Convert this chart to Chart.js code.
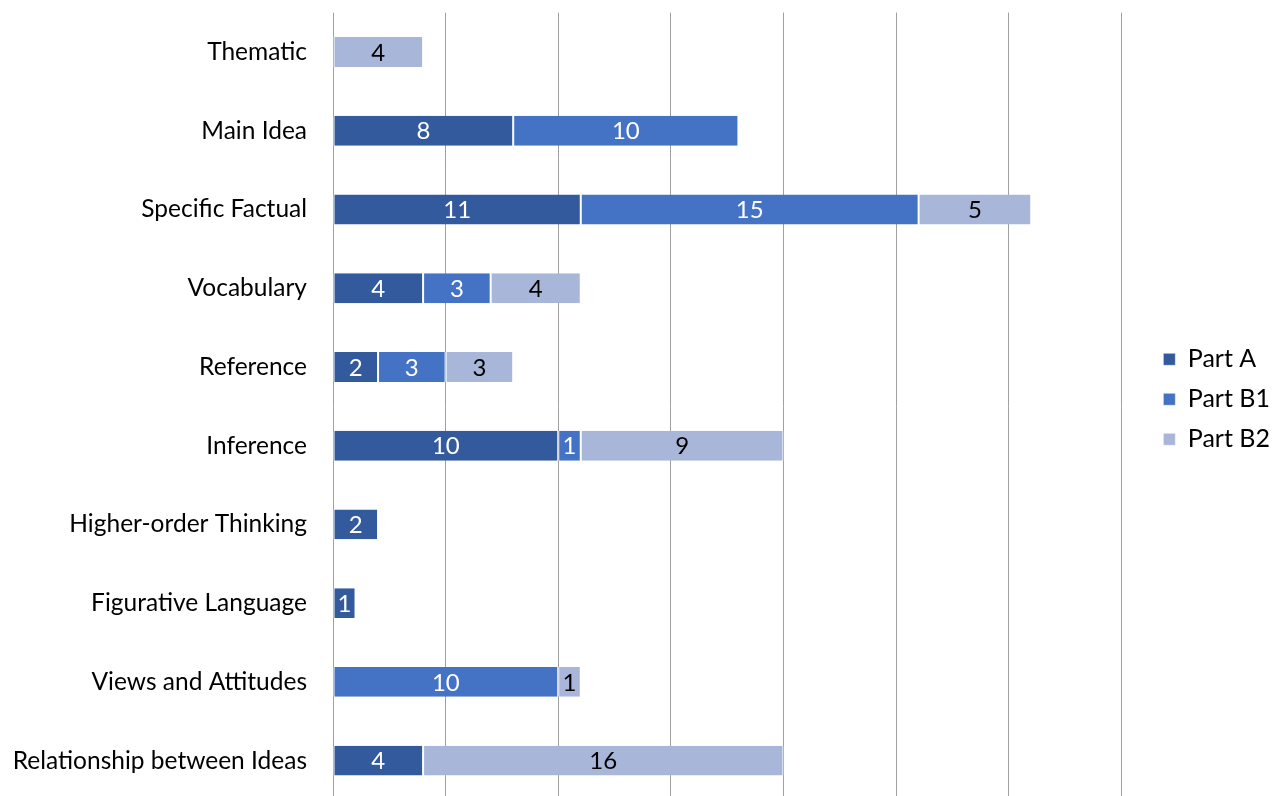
<!DOCTYPE html>
<html>
<head>
<meta charset="utf-8">
<script src="https://cdn.jsdelivr.net/npm/chart.js"></script>
<style>
  html, body { margin: 0; padding: 0; background: #fff; overflow: hidden; }
  #wrap { width: 1273px; height: 800px; position: relative; }
</style>
</head>
<body>
<div id="wrap"><canvas id="chart"></canvas></div>
<script>
// Question types (top to bottom)
const categories = [
    'Thematic', 'Main Idea', 'Specific Factual', 'Vocabulary', 'Reference',
    'Inference', 'Higher-order Thinking', 'Figurative Language',
    'Views and Attitudes', 'Relationship between Ideas'
];
// Number of questions per part
const partA  = [0, 8, 11, 4, 2, 10, 2, 1, 0, 4];
const partB1 = [0, 10, 15, 3, 3, 1, 0, 0, 10, 0];
const partB2 = [4, 0, 5, 4, 3, 9, 0, 0, 1, 16];

const FONT = "Lato, 'Open Sans', sans-serif";

// draws the value in the middle of each segment
const segmentLabels = {
    id: 'segmentLabels',
    afterDatasetsDraw(chart) {
        const ctx = chart.ctx;
        ctx.save();
        ctx.font = '24px ' + FONT;
        ctx.textAlign = 'center';
        ctx.textBaseline = 'middle';
        chart.data.datasets.forEach((ds, i) => {
            const meta = chart.getDatasetMeta(i);
            meta.data.forEach((bar, j) => {
                const v = ds.data[j];
                if (!v) return;
                const p = bar.getCenterPoint();
                ctx.fillStyle = ds.labelColor;
                ctx.fillText(String(v), p.x, p.y + 1);
            });
        });
        ctx.restore();
    }
};

// leave a wider gap between the plot and the legend, nudge legend up a bit
const legendGap = {
    id: 'legendGap',
    afterInit(chart) {
        const lg = chart.legend;
        const fit = lg.fit.bind(lg);
        lg.fit = function() { fit(); this.width += 20; };
    },
    afterLayout(chart) {
        const lg = chart.legend;
        lg.left += 27;
        lg.right += 27;
        lg.top -= 7;
        lg.bottom -= 7;
    }
};

new Chart(document.getElementById('chart'), {
    type: 'bar',
    data: {
        labels: categories,
        datasets: [
            { label: 'Part A', data: partA, backgroundColor: '#345a9e', labelColor: '#ffffff' },
            { label: 'Part B1', data: partB1, backgroundColor: '#4472c4', labelColor: '#ffffff' },
            { label: 'Part B2', data: partB2, backgroundColor: '#a8b6da', labelColor: '#000000' }
        ].map(d => Object.assign(d, {
            borderColor: '#ffffff',
            borderWidth: { left: 1, right: 1, top: 0, bottom: 0 },
            borderSkipped: false,
            barPercentage: 1,
            categoryPercentage: 0.38
        }))
    },
    options: {
        indexAxis: 'y',
        responsive: true,
        maintainAspectRatio: false,
        animation: false,
        layout: { padding: { top: 12.6, right: 0, bottom: 0, left: 0 } },
        plugins: {
            legend: {
                position: 'right',
                labels: {
                    boxWidth: 12,
                    boxHeight: 12,
                    padding: 15,
                    color: '#000',
                    font: { family: FONT, size: 25 }
                }
            },
            tooltip: { enabled: false }
        },
        scales: {
            x: {
                stacked: true,
                min: 0,
                max: 35,
                ticks: { display: false, stepSize: 5 },
                grid: { color: '#a0a0a0', lineWidth: 1, drawTicks: false },
                border: { display: false },
                afterFit: s => { s.height = 0; }
            },
            y: {
                stacked: true,
                ticks: { color: '#000', padding: 26, font: { family: FONT, size: 24.5 } },
                grid: { display: false, drawTicks: false },
                border: { display: false },
                afterFit: s => { s.paddingTop = 0; s.paddingBottom = 0; s.width = 333; }
            }
        }
    },
    plugins: [segmentLabels, legendGap]
});
</script>
</body>
</html>
